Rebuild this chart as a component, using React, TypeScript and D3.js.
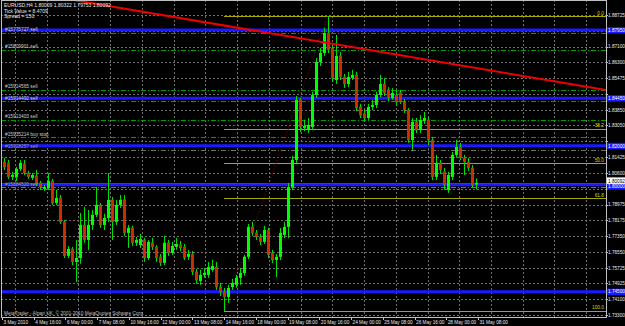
import React from "react";
import * as d3 from "d3";

const W = 625;
const H = 326;

const opens = [
  1.8117, 1.8112, 1.8040, 1.8040, 1.8081, 1.8107, 1.8060, 1.8035, 1.8045, 1.8009,
  1.7978, 1.7983, 1.8019, 1.7906, 1.7932, 1.7809, 1.7634, 1.7670, 1.7603, 1.7623,
  1.7793, 1.7716, 1.7793, 1.7845, 1.7896, 1.7793, 1.7829, 1.7922, 1.7809, 1.7896,
  1.7922, 1.7752, 1.7778, 1.7701, 1.7690, 1.7716, 1.7623, 1.7701, 1.7680, 1.7629,
  1.7598, 1.7701, 1.7649, 1.7680, 1.7690, 1.7680, 1.7629, 1.7644, 1.7552, 1.7505,
  1.7536, 1.7536, 1.7562, 1.7577, 1.7474, 1.7449, 1.7423, 1.7474, 1.7485, 1.7521,
  1.7546, 1.7629, 1.7783, 1.7752, 1.7731, 1.7706, 1.7767, 1.7649, 1.7613, 1.7629,
  1.7742, 1.7783, 1.7988, 1.8127, 1.8436, 1.8292, 1.8281, 1.8297, 1.8461, 1.8631,
  1.8677, 1.8780, 1.8703, 1.8538, 1.8662, 1.8554, 1.8518, 1.8549, 1.8564, 1.8400,
  1.8364, 1.8343, 1.8400, 1.8410, 1.8461, 1.8518, 1.8487, 1.8446, 1.8461, 1.8472,
  1.8425, 1.8384, 1.8230, 1.8323, 1.8281, 1.8328, 1.8333, 1.8230, 1.8040, 1.8112,
  1.8066, 1.7973, 1.8040, 1.8153, 1.8194, 1.8138, 1.8117, 1.8086, 1.80009,
];
const highs = [
  1.8138, 1.8127, 1.8066, 1.8091, 1.8127, 1.8127, 1.8071, 1.8060, 1.8076, 1.8019,
  1.7999, 1.8060, 1.8030, 1.7973, 1.7947, 1.7819, 1.7685, 1.7680, 1.7716, 1.7855,
  1.7886, 1.7870, 1.7870, 1.7988, 1.7906, 1.7850, 1.8060, 1.7937, 1.7922, 1.7947,
  1.7947, 1.7793, 1.7788, 1.7731, 1.7747, 1.7726, 1.7716, 1.7726, 1.7690, 1.7644,
  1.7737, 1.7716, 1.7706, 1.7726, 1.7711, 1.7695, 1.7665, 1.7659, 1.7567, 1.7562,
  1.7572, 1.7603, 1.7613, 1.7603, 1.7495, 1.7469, 1.7485, 1.7516, 1.7536, 1.7572,
  1.7639, 1.7798, 1.7809, 1.7767, 1.7747, 1.7788, 1.7778, 1.7665, 1.7644, 1.7778,
  1.7809, 1.8009, 1.8148, 1.8456, 1.8446, 1.8333, 1.8343, 1.8477, 1.8651, 1.8703,
  1.8806, 1.8867, 1.8718, 1.8770, 1.8682, 1.8569, 1.8580, 1.8590, 1.8580, 1.8415,
  1.8384, 1.8415, 1.8436, 1.8477, 1.8564, 1.8549, 1.8502, 1.8497, 1.8487, 1.8487,
  1.8441, 1.8394, 1.8343, 1.8343, 1.8358, 1.8374, 1.8348, 1.8245, 1.8153, 1.8127,
  1.8086, 1.8066, 1.8168, 1.8230, 1.8215, 1.8153, 1.8138, 1.8101, 1.80322,
];
const lows = [
  1.8076, 1.8030, 1.8024, 1.8019, 1.8071, 1.8050, 1.8030, 1.8024, 1.7994, 1.7973,
  1.7968, 1.7973, 1.7896, 1.7896, 1.7798, 1.7623, 1.7623, 1.7587, 1.7500, 1.7593,
  1.7701, 1.7665, 1.7767, 1.7834, 1.7778, 1.7767, 1.7809, 1.7716, 1.7793, 1.7880,
  1.7737, 1.7675, 1.7685, 1.7685, 1.7675, 1.7603, 1.7613, 1.7665, 1.7603, 1.7582,
  1.7587, 1.7634, 1.7639, 1.7665, 1.7659, 1.7613, 1.7613, 1.7536, 1.7490, 1.7485,
  1.7521, 1.7521, 1.7552, 1.7459, 1.7428, 1.7351, 1.7392, 1.7459, 1.7469, 1.7485,
  1.7531, 1.7618, 1.7737, 1.7716, 1.7690, 1.7695, 1.7623, 1.7598, 1.7526, 1.7613,
  1.7726, 1.7726, 1.7973, 1.8112, 1.8271, 1.8276, 1.8266, 1.8281, 1.8446, 1.8610,
  1.8662, 1.8677, 1.8528, 1.8518, 1.8538, 1.8497, 1.8502, 1.8538, 1.8379, 1.8343,
  1.8328, 1.8333, 1.8384, 1.8394, 1.8451, 1.8456, 1.8430, 1.8436, 1.8410, 1.8415,
  1.8369, 1.8215, 1.8179, 1.8266, 1.8266, 1.8312, 1.8204, 1.8024, 1.8024, 1.8055,
  1.7973, 1.7958, 1.8024, 1.8138, 1.8127, 1.8050, 1.8071, 1.7983, 1.79753,
];
const closes = [
  1.8091, 1.8040, 1.8050, 1.8081, 1.8112, 1.8060, 1.8040, 1.8050, 1.8004, 1.7988,
  1.7988, 1.8019, 1.7906, 1.7932, 1.7809, 1.7634, 1.7670, 1.7603, 1.7623, 1.7793,
  1.7716, 1.7793, 1.7845, 1.7896, 1.7793, 1.7829, 1.7922, 1.7809, 1.7896, 1.7922,
  1.7752, 1.7778, 1.7701, 1.7716, 1.7721, 1.7623, 1.7706, 1.7680, 1.7623, 1.7598,
  1.7701, 1.7649, 1.7685, 1.7695, 1.7675, 1.7623, 1.7644, 1.7552, 1.7510, 1.7536,
  1.7546, 1.7577, 1.7582, 1.7474, 1.7449, 1.7423, 1.7469, 1.7495, 1.7521, 1.7546,
  1.7629, 1.7783, 1.7752, 1.7731, 1.7706, 1.7767, 1.7639, 1.7613, 1.7629, 1.7752,
  1.7783, 1.7988, 1.8127, 1.8436, 1.8297, 1.8302, 1.8307, 1.8461, 1.8631, 1.8677,
  1.8780, 1.8693, 1.8549, 1.8662, 1.8554, 1.8518, 1.8554, 1.8564, 1.8394, 1.8358,
  1.8343, 1.8400, 1.8410, 1.8461, 1.8518, 1.8472, 1.8446, 1.8472, 1.8425, 1.8425,
  1.8384, 1.8230, 1.8323, 1.8281, 1.8333, 1.8343, 1.8230, 1.8040, 1.8112, 1.8076,
  1.7999, 1.8050, 1.8153, 1.8194, 1.8138, 1.8117, 1.8086, 1.7999, 1.80092,
];

const priceTicks = [
  "1.88725", "1.87900", "1.87100", "1.86300", "1.85475", "1.84650", "1.83850",
  "1.83050", "1.82225", "1.81425", "1.80600", "1.79775", "1.78975", "1.78175",
  "1.77350", "1.76550", "1.75725", "1.74925", "1.74100", "1.73300",
];

const timeLabels = [
  "3 May 2010", "4 May 16:00", "6 May 00:00", "7 May 08:00", "10 May 16:00",
  "12 May 00:00", "13 May 08:00", "14 May 16:00", "18 May 00:00", "19 May 08:00",
  "20 May 16:00", "24 May 00:00", "25 May 08:00", "26 May 16:00", "28 May 00:00",
  "31 May 08:00",
];

const blueLevels = [1.8795, 1.8445, 1.82, 1.8, 1.745];

const orderLevels = [1.878, 1.8693, 1.8487, 1.843, 1.8333, 1.8245, 1.8179, 1.7988];
const orderLabels = [
  "#15775727 sell", "#15809901 sell", "#15914565 sell", "#15914492 sell",
  "#15913403 sell", "#15935214 buy stop", "#15928257 sell", "#15884520 sell",
];
const orderActive = [true, true, true, true, true, true, false, false];

const fibLevels = [0, 38.2, 50, 61.8, 100];
const fibLabels = ["0.0", "38.2", "50.0", "61.8", "100.0"];
const fibLowBar = 55;
const fibLowPrice = 1.7351;
const fibHighBar = 81;
const fibHighPrice = 1.8867;

const trendBars = [69, 109];
const trendPrices = [1.877, 1.8631];

const header = [
  "EURUSD,H4  1.80009 1.80322 1.79753 1.80092",
  "Tick Value = 8.4709",
  "Spread = 150",
];
const lastPrice = 1.80092;

const FONT = "'Liberation Sans', Arial, sans-serif";

export default function App() {
  const plotL = 1;
  const plotR = 606;
  const plotT = 0;
  const plotB = 317;

  const x = d3.scaleLinear().domain([0, opens.length - 1]).range([4, 476]);
  const y = d3.scaleLinear().domain([1.733, 1.88725]).range([315, 15]);
  const labelX = d3.scaleLinear().domain([0, timeLabels.length - 1]).range([2, 478]);
  const gridKs = d3.range(0, 19).filter((k) => labelX(k) + 13 < plotR);

  const trendAt = (i: number) =>
    trendPrices[0] + ((i - trendBars[0]) * (trendPrices[1] - trendPrices[0])) / (trendBars[1] - trendBars[0]);
  const iLeft = x.invert(plotL);
  const iRight = x.invert(plotR);

  const fibPrice = (lv: number) => fibHighPrice - (lv / 100) * (fibHighPrice - fibLowPrice);

  // axis label boxes: current price box nudged up, nearby blue box nudged down (as in MT4 stacking)
  const lastBoxY = y(lastPrice) - 2;
  const blueBoxY = (p: number) => {
    const by = y(p);
    return Math.abs(by - y(lastPrice)) < 5 ? by + 1.5 : by;
  };

  const boxYs = [...blueLevels.map(blueBoxY), lastBoxY];
  const visibleTicks = priceTicks.filter((t) => {
    const ty = y(parseFloat(t));
    return boxYs.every((by) => Math.abs(by - ty) > 6.5);
  });

  const axisFs = 4.7;

  return (
    <svg
      width={W}
      height={H}
      style={{ position: "absolute", left: 0, top: 0, display: "block" }}
      fontFamily={FONT}
    >
      <defs>
        <clipPath id="plotclip">
          <rect x={plotL} y={plotT} width={plotR - plotL} height={plotB - plotT} />
        </clipPath>
      </defs>
      <rect x={0} y={0} width={W} height={H} fill="#000" />

      {/* grid */}
      <g stroke="#6e6e6e" strokeWidth={1} strokeDasharray="2,2">
        {priceTicks.map((t) => {
          const yy = Math.round(y(parseFloat(t))) + 0.5;
          return yy < plotB ? <line key={t} x1={plotL} x2={plotR} y1={yy} y2={yy} /> : null;
        })}
        {gridKs.map((k) => {
          const xx = Math.round(labelX(k) + 13) + 0.5;
          return <line key={k} x1={xx} x2={xx} y1={plotT} y2={plotB} />;
        })}
      </g>

      <g clipPath="url(#plotclip)">
        {/* order lines */}
        {orderLevels.map((p, i) => {
          const yy = Math.round(y(p)) + 0.5;
          return (
            <line
              key={i}
              x1={plotL}
              x2={plotR}
              y1={yy}
              y2={yy}
              stroke={orderActive[i] ? "#00a000" : "#707070"}
              strokeWidth={1}
              strokeDasharray="5,2,1,2"
            />
          );
        })}

        {/* current price line */}
        <line
          x1={plotL}
          x2={plotR}
          y1={Math.round(y(lastPrice)) + 0.5}
          y2={Math.round(y(lastPrice)) + 0.5}
          stroke="#8a8a8a"
          strokeWidth={1}
        />

        {/* fibonacci */}
        {fibLevels.map((lv, i) => {
          const yy = Math.round(y(fibPrice(lv))) + 0.5;
          return (
            <line key={i} x1={x(fibLowBar)} x2={plotR} y1={yy} y2={yy} stroke="#a8a800" strokeWidth={1} />
          );
        })}
        <line
          x1={x(fibLowBar)}
          y1={y(fibLowPrice)}
          x2={x(fibHighBar)}
          y2={y(fibHighPrice)}
          stroke="#a00000"
          strokeWidth={1}
          strokeDasharray="1,2"
        />

        {/* blue levels */}
        {blueLevels.map((p, i) => (
          <line key={i} x1={plotL} x2={plotR} y1={y(p)} y2={y(p)} stroke="#1a1aff" strokeWidth={3} />
        ))}

        {/* candles */}
        {opens.map((o, i) => {
          const c = closes[i];
          const bull = c >= o;
          const cx = Math.round(x(i));
          const top = y(Math.max(o, c));
          const bot = y(Math.min(o, c));
          return (
            <g key={i}>
              <line x1={cx + 0.5} x2={cx + 0.5} y1={y(highs[i])} y2={y(lows[i])} stroke="#00e000" strokeWidth={1} />
              {bull ? (
                <rect x={cx - 1} y={top} width={3} height={Math.max(1, bot - top)} fill="#00ff00" />
              ) : (
                <rect
                  x={cx - 0.75}
                  y={top}
                  width={2.5}
                  height={Math.max(1, bot - top)}
                  fill="#c83200"
                  stroke="#00b000"
                  strokeWidth={0.5}
                />
              )}
            </g>
          );
        })}

        {/* trend line */}
        <line
          x1={plotL}
          y1={y(trendAt(iLeft))}
          x2={plotR}
          y2={y(trendAt(iRight))}
          stroke="#ee0000"
          strokeWidth={2}
        />
      </g>

      {/* order labels */}
      <g fontSize={4.8}>
        {orderLevels.map((p, i) => (
          <text key={i} x={5} y={y(p) - 1.5} fill={orderActive[i] ? "#cfcfcf" : "#9a9a9a"}>
            {orderLabels[i]}
          </text>
        ))}
      </g>

      {/* fib labels */}
      <g fontSize={4.8} fill="#d4d400" textAnchor="end">
        {fibLevels.map((lv, i) => (
          <text key={i} x={604} y={y(fibPrice(lv)) - 1.5}>
            {fibLabels[i]}
          </text>
        ))}
      </g>

      {/* header */}
      <g fontSize={5} fill="#e8e8e8">
        {header.map((t, i) => (
          <text key={i} x={4} y={7 + i * 5.6}>
            {t}
          </text>
        ))}
      </g>
      <text x={4} y={315} fontSize={4.8} fill="#c0c0c0">
        MetaTrader - Alpari UK, © 2001-2010 MetaQuotes Software Corp.
      </text>

      {/* frame */}
      <rect
        x={plotL + 0.5}
        y={plotT + 0.5}
        width={plotR - plotL}
        height={plotB - plotT}
        fill="none"
        stroke="#c0c0c0"
        strokeWidth={1}
      />

      {/* price axis */}
      <g fontSize={axisFs} fill="#e8e8e8">
        {priceTicks.map((t) => (
          <line
            key={t}
            x1={plotR}
            x2={plotR + 2}
            y1={Math.round(y(parseFloat(t))) + 0.5}
            y2={Math.round(y(parseFloat(t))) + 0.5}
            stroke="#c0c0c0"
          />
        ))}
        {visibleTicks.map((t) => (
          <text key={t} x={608} y={y(parseFloat(t)) + 1.8}>
            {t}
          </text>
        ))}
      </g>
      {blueLevels.map((p, i) => (
        <g key={i}>
          <rect x={plotR + 1} y={blueBoxY(p) - 3} width={W - plotR} height={6.5} fill="#1a1aff" />
          <text x={608} y={blueBoxY(p) + 1.8} fontSize={axisFs} fill="#ffffff">
            {p.toFixed(5)}
          </text>
        </g>
      ))}
      <rect x={plotR + 1} y={lastBoxY - 3.5} width={W - plotR} height={6.5} fill="#ffffff" />
      <text x={608} y={lastBoxY + 1.6} fontSize={axisFs} fill="#000">
        {lastPrice.toFixed(5)}
      </text>

      {/* time axis */}
      <g fontSize={4.7} fill="#e8e8e8">
        {timeLabels.map((t, k) => (
          <g key={t}>
            <line
              x1={Math.round(labelX(k)) + 0.5}
              x2={Math.round(labelX(k)) + 0.5}
              y1={plotB}
              y2={plotB + 3}
              stroke="#c0c0c0"
            />
            <text x={labelX(k) + 1.5} y={323.5}>
              {t}
            </text>
          </g>
        ))}
      </g>
    </svg>
  );
}
